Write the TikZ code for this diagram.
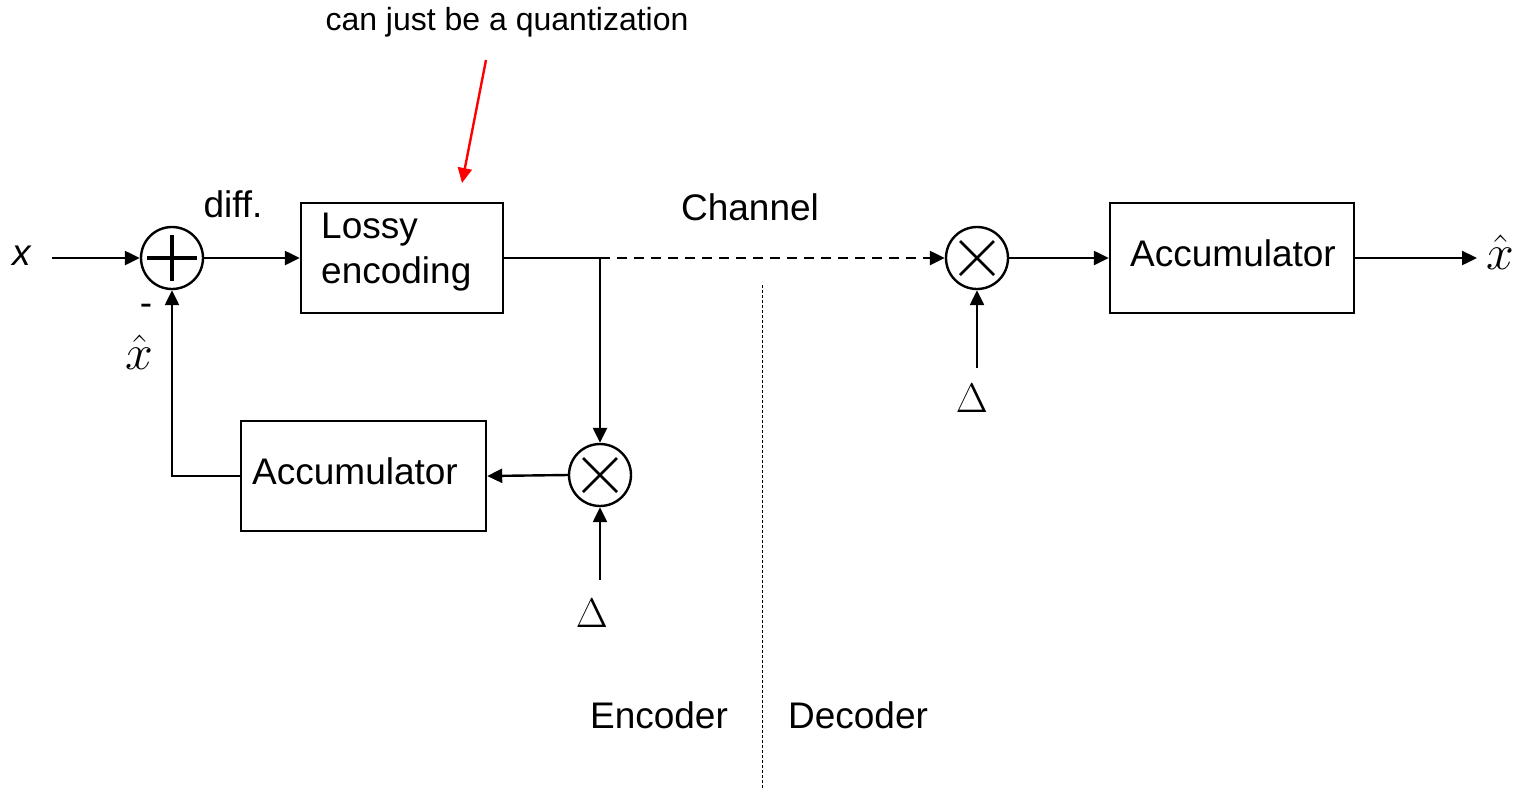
\documentclass[tikz,border=0pt]{standalone}
\usepackage{fontspec}
\setmainfont{Liberation Sans}
\usetikzlibrary{arrows.meta,calc}
\begin{document}
\begin{tikzpicture}[x=0.5pt,y=-0.5pt,
  line width=1.2pt,
  >={Triangle[length=7.5pt,width=7pt]},
  blk/.style={draw,line width=1.2pt,inner sep=0pt,minimum height=55pt},
  opc/.style={draw,circle,line width=1.2pt,minimum size=31pt,inner sep=0pt},
  lbl/.style={font=\fontsize{18.5}{22}\selectfont,inner sep=0pt},
  mth/.style={font=\fontsize{23}{27}\selectfont,inner sep=0pt},
  dlt/.style={font=\fontsize{22}{26}\selectfont,inner sep=0pt},
  sym/.style={line width=1.7pt},
  ]
\useasboundingbox (0,0) rectangle (1522,789);

% blocks
\node[opc] (sum) at (172,258) {};
\node[blk,minimum width=101pt] (enc) at (402,258) {};
\node[lbl,anchor=base west] (lossy) at (320,238) {Lossy};
\node[lbl,anchor=base west] (encoding) at (320,283) {encoding};
\node[opc] (ml) at (600,475) {};
\node[blk,minimum width=122.5pt] (acc1) at (363.5,476) {};
\node[lbl] (acc1t) at (355,471) {Accumulator};
\node[opc] (mr) at (977,258) {};
\node[blk,minimum width=122pt] (acc2) at (1232,258) {};
\node[lbl] (acc2t) at (1233,253) {Accumulator};

% symbols inside operators
\draw[sym] ($(sum)+(-25,0)$) -- ($(sum)+(25,0)$);
\draw[sym] ($(sum)+(0,-23)$) -- ($(sum)+(0,23)$);
\draw[line width=1.4pt] ($(ml)+(-17,-17)$) -- ($(ml)+(17,17)$);
\draw[line width=1.4pt] ($(ml)+(-17,17)$) -- ($(ml)+(17,-17)$);
\draw[line width=1.4pt] ($(mr)+(-17,-17)$) -- ($(mr)+(17,17)$);
\draw[line width=1.4pt] ($(mr)+(-17,17)$) -- ($(mr)+(17,-17)$);

% coordinates
\coordinate (xin) at (52,258);
\coordinate (split) at (600,258);
\coordinate (d1c) at (600,580);
\coordinate (d2c) at (977,368);
\coordinate (xout) at (1477,258);
\coordinate (qs) at (486,60);
\coordinate (qt) at (462,183);

% labels
\node[lbl,font=\fontsize{18.5}{22}\selectfont\itshape] (xlab) at (22,256) {x};
\node[lbl] (diff) at (233,204) {diff.};
\node[lbl] (minus) at (146,310) {-};
\node[mth] (xh1) at (139,352) {$\hat{x}$};
\node[dlt] (d1) at (592,613) {$\Delta$};
\node[dlt] (d2) at (972,398) {$\Delta$};
\node[mth] (xh2) at (1500,252) {$\hat{x}$};
\node[lbl] (chan) at (750,207) {Channel};
\node[lbl] (encl) at (659,715) {Encoder};
\node[lbl] (decl) at (858,715) {Decoder};
\node[inner sep=0pt,font=\fontsize{16}{19}\selectfont] (quant) at (507,22) {can just be a quantization};

% connectors
\draw[->] (xin) -- (sum.west);
\draw[->] (sum.east) -- (enc.west);
\draw (enc.east) -- (split);
\draw[->,dash pattern=on 5pt off 3.5pt] (split) -- (mr.west);
\draw[->] (split) -- (ml.north);
\draw[->] (ml.west) -- (acc1.east);
\draw[->] (acc1.west) -| (sum.south);
\draw[->] (d1c) -- (ml.south);
\draw[->] (mr.east) -- (acc2.west);
\draw[->] (acc2.east) -- (xout);
\draw[->] (d2c) -- (mr.south);
\draw[->,red,line width=1.2pt] (qs) -- (qt);
\draw[line width=0.5pt,dash pattern=on 1.5pt off 1pt] (762,285) -- (762,789);
\end{tikzpicture}
\end{document}
